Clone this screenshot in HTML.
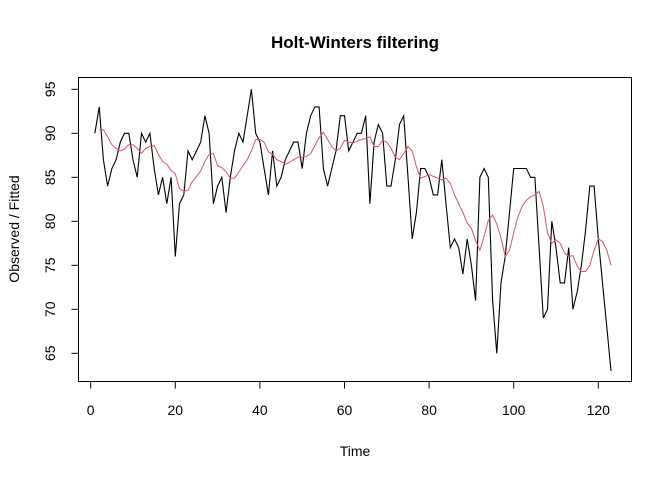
<!DOCTYPE html>
<html><head><meta charset="utf-8"><style>
body{margin:0;background:#fff;}
svg{display:block;font-family:"Liberation Sans",Arial,sans-serif;}
</style></head><body>
<svg id="chart" width="672" height="480" viewBox="0 0 672 480">
<text x="355" y="48" text-anchor="middle" font-size="17" font-weight="bold">Holt-Winters filtering</text>
<text x="355" y="456" text-anchor="middle" font-size="14">Time</text>
<text transform="translate(19,229) rotate(-90)" text-anchor="middle" font-size="14">Observed / Fitted</text>
<rect x="78.5" y="77.5" width="553" height="304" fill="none" stroke="#000"/>
<g id="xaxis"></g>
<g id="yaxis"></g>
<g id="series"></g>
</svg>
<script>
const observed=[90,93,87,84,86,87,89,90,90,87,85,90,89,90,86,83,85,82,85,76,82,83,88,87,88,89,92,90,82,84,85,81,85,88,90,89,92,95,90,89,86,83,88,84,85,87,88,89,89,86,90,92,93,93,86,84,86,88,92,92,88,89,90,90,92,82,89,91,90,84,84,87,91,92,85,78,81,86,86,85,83,83,87,82,77,78,77,74,78,75,71,85,86,85,71,65,73,76,81,86,86,86,86,85,85,77,69,70,80,77,73,73,77,70,72,75,79,84,84,78,73,68,63];
const fitted=[null,90.4,90.4,89.6,88.7,88.3,88,88.2,88.7,88.7,88.3,87.7,88.3,88.5,88.6,87.6,86.8,86.5,85.8,85.4,83.7,83.4,83.5,84.5,85.1,85.7,86.8,87.6,87.7,86.3,86.1,85.6,84.9,84.9,85.6,86.3,87,88,89.3,89.3,89,87.9,87.6,87,86.8,86.5,86.7,87,87.3,87.3,87.4,87.7,88.6,89.5,90.1,89.3,88.5,88,88.3,89.2,89,88.9,89.1,89.3,89.4,89.6,88.5,88.5,89.2,89,88.3,87.3,87,87.7,88.5,88,86.2,84.9,85.1,85.3,85.1,84.9,84.7,84.9,84.3,83,82,81,79.8,79.2,77.8,76.7,78.3,80.1,80.7,79.7,78.1,76,76.7,78.7,80.5,81.7,82.4,82.8,83,83.4,81.7,78.7,77.5,77.9,77.5,76.4,76,76.1,74.9,74.3,74.3,75,76.7,78,77.7,76.7,75];
const xTicks=[0,20,40,60,80,100,120];
const yTicks=[65,70,75,80,85,90,95];
const NS='http://www.w3.org/2000/svg';
function xs(t){return 90.7+4.23*t;}
function ys(v){return 89.3+(95-v)*8.8;}
function mk(tag,attrs,parent){const e=document.createElementNS(NS,tag);for(const k in attrs)e.setAttribute(k,attrs[k]);parent.appendChild(e);return e;}
const xa=document.getElementById('xaxis'),ya=document.getElementById('yaxis'),sg=document.getElementById('series');
const xl=mk('line',{x1:xs(xTicks[0]),x2:xs(xTicks[xTicks.length-1]),y1:381.5,y2:381.5,stroke:'#000'},xa);


xTicks.forEach(t=>{
  const l=mk('line',{x1:xs(t),x2:xs(t),y1:381.5,y2:388.5,stroke:'#000'},xa);
  
  
  const tx=mk('text',{x:xs(t),y:415,'text-anchor':'middle','font-size':'14'},xa);
  tx.textContent=t;
  
  
});
const yl=mk('line',{x1:78.5,x2:78.5,y1:ys(yTicks[0]),y2:ys(yTicks[yTicks.length-1]),stroke:'#000'},ya);


yTicks.forEach(v=>{
  const l=mk('line',{x1:71.5,x2:78.5,y1:ys(v),y2:ys(v),stroke:'#000'},ya);
  
  
  const tx=mk('text',{transform:`translate(55,${ys(v)}) rotate(-90)`,'text-anchor':'middle','font-size':'14'},ya);
  tx.textContent=v;
  
  
});
const op=observed.map((v,i)=>xs(i+1).toFixed(1)+','+ys(v).toFixed(1)).join(' ');
const ol=mk('polyline',{points:op,fill:'none',stroke:'#000','stroke-width':'1.1'},sg);


const fp=fitted.map((v,i)=>v==null?null:xs(i+1).toFixed(1)+','+ys(v).toFixed(1)).filter(p=>p).join(' ');
const fl=mk('polyline',{points:fp,fill:'none',stroke:'#DF536B','stroke-width':'1'},sg);


</script>
</body></html>
